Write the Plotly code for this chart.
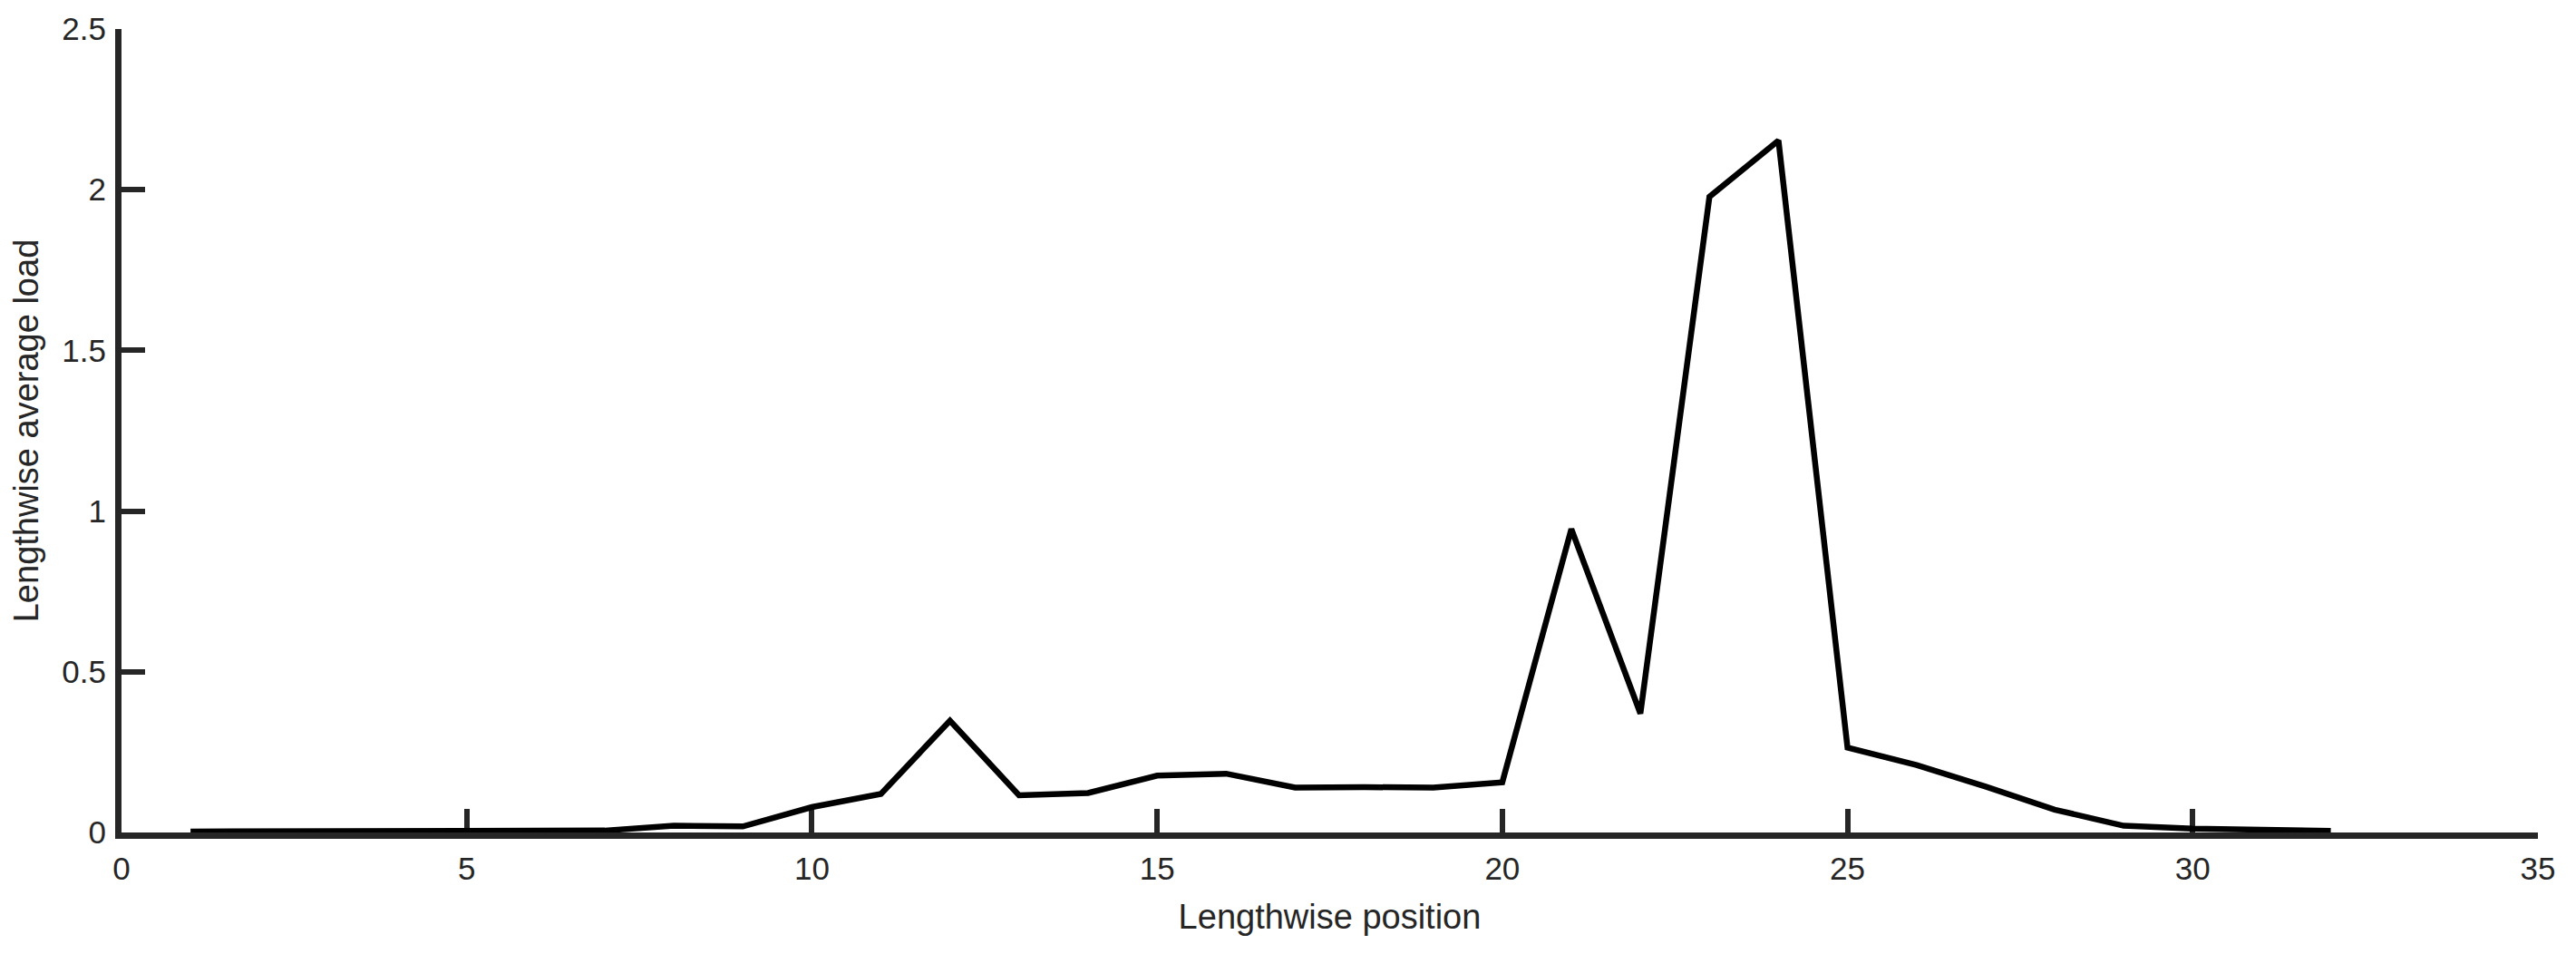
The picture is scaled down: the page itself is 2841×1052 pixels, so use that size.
import plotly.graph_objects as go

# lengthwise positions and the average load
positions = list(range(1, 33))
avg_load = [0.003, 0.003, 0.003, 0.003, 0.003, 0.003, 0.006, 0.021, 0.019, 0.079,
            0.12, 0.348, 0.116, 0.123, 0.177, 0.183, 0.14, 0.141, 0.14, 0.156,
            0.944, 0.37, 1.978, 2.153, 0.264, 0.21, 0.143, 0.071, 0.021, 0.012,
            0.009, 0.005]

x_ticks = [0, 5, 10, 15, 20, 25, 30, 35]
y_ticks = [0, 0.5, 1, 1.5, 2, 2.5]

axis_col = '#262626'
font_family = 'Liberation Sans, Arial, sans-serif'

fig = go.Figure()
fig.add_trace(go.Scatter(x=positions, y=avg_load, mode='lines',
                         line=dict(color='black', width=6.5),
                         showlegend=False))

axis_style = dict(showline=True, linecolor=axis_col, linewidth=7,
                  ticks='inside', ticklen=26, tickwidth=6, tickcolor=axis_col,
                  showgrid=False, zeroline=False, mirror=False,
                  automargin=False,
                  tickfont=dict(family=font_family, size=35, color=axis_col),
                  layer='below traces')

# page body has an 8px margin, so the figure is a bit smaller than the window
fig.update_layout(
    width=2833, height=1044,
    margin=dict(l=126, r=42, t=24, b=134),
    plot_bgcolor='white', paper_bgcolor='white',
    font=dict(family=font_family, color=axis_col),
    xaxis=dict(range=[0, 35], tickvals=x_ticks, ticklabelstandoff=3,
               title=dict(text='Lengthwise position', standoff=24,
                          font=dict(family=font_family, size=38, color=axis_col)),
               **axis_style),
    yaxis=dict(range=[0, 2.5], tickvals=y_ticks, ticklabelstandoff=3,
               title=dict(text='Lengthwise average load', standoff=20,
                          font=dict(family=font_family, size=38, color=axis_col)),
               **axis_style),
)

fig.write_html("out.html")
